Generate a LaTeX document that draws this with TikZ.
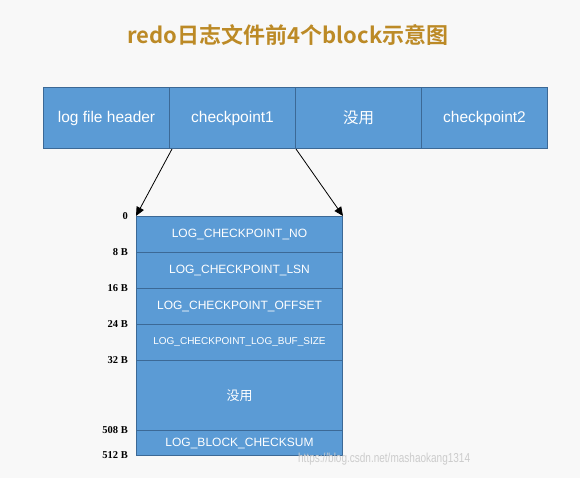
\documentclass[tikz,border=0pt]{standalone}
\usepackage{fontspec}
\setmainfont{Liberation Serif}
\setsansfont{Liberation Sans}
\newfontfamily\cjk{Noto Sans CJK SC}
\newfontfamily\cjkb{Noto Sans CJK SC Bold}
\usetikzlibrary{arrows.meta}
\definecolor{cellfill}{RGB}{91,155,213}
\definecolor{celldraw}{RGB}{60,105,150}
\definecolor{titlecol}{RGB}{188,138,38}
\definecolor{bgcol}{RGB}{248,248,248}
\begin{document}
\begin{tikzpicture}[x=1pt,y=-1pt,
  cell/.style={draw=celldraw,line width=1pt,fill=cellfill,text=white,font=\sffamily\fontsize{12}{14}\selectfont,inner sep=0pt,anchor=north west},
  topcell/.style={cell,minimum width=126pt,minimum height=61pt,font=\sffamily\fontsize{15.5}{18}\selectfont},
  offs/.style={font=\bfseries\fontsize{10.5}{12}\selectfont,anchor=east,inner sep=0pt},
  arr/.style={-{Triangle[length=9pt,width=8pt]},line width=0.8pt}]
\fill[bgcol] (0,0) rectangle (580,478);
\useasboundingbox (0,0) rectangle (580,478);
\node[font=\cjkb\fontsize{22}{26}\selectfont,text=titlecol] (title) at (288,35) {redo日志文件前4个block示意图};
% top row
\node[topcell] (h) at (43,87) {log file header};
\node[topcell] (c1) at (169,87) {checkpoint1};
\node[topcell] (u) at (295,87) {\cjk 没用};
\node[topcell] (c2) at (421,87) {checkpoint2};
% bottom block
\node[cell,minimum width=206pt,minimum height=36pt] (b1) at (136,216) {LOG\_CHECKPOINT\_NO};
\node[cell,minimum width=206pt,minimum height=36pt] (b2) at (136,252) {LOG\_CHECKPOINT\_LSN};
\node[cell,minimum width=206pt,minimum height=36pt] (b3) at (136,288) {LOG\_CHECKPOINT\_OFFSET};
\node[cell,minimum width=206pt,minimum height=36pt,font=\sffamily\fontsize{10}{12}\selectfont] (b4) at (136,324) {LOG\_CHECKPOINT\_LOG\_BUF\_SIZE};
\node[cell,minimum width=206pt,minimum height=70pt,font=\cjk\fontsize{13}{15}\selectfont] (b5) at (136,360) {没用};
\node[cell,minimum width=206pt,minimum height=25pt] (b6) at (136,430) {LOG\_BLOCK\_CHECKSUM};
% offsets
\node[offs] (o0) at (128,216) {0};
\node[offs] (o8) at (128,252) {8 B};
\node[offs] (o16) at (128,288) {16 B};
\node[offs] (o24) at (128,324) {24 B};
\node[offs] (o32) at (128,360) {32 B};
\node[offs] (o508) at (128,430) {508 B};
\node[offs] (o512) at (128,455) {512 B};
% arrows
\draw[arr] (c1.south west) ++(3,0) -- (b1.north west);
\draw[arr] (c1.south east) -- (b1.north east);
% watermark
\node[font=\sffamily\fontsize{13}{15}\selectfont,text=black!20,anchor=west,inner sep=0pt,xscale=0.77] (wm) at (298,459) {https://blog.csdn.net/mashaokang1314};
\end{tikzpicture}
\end{document}
